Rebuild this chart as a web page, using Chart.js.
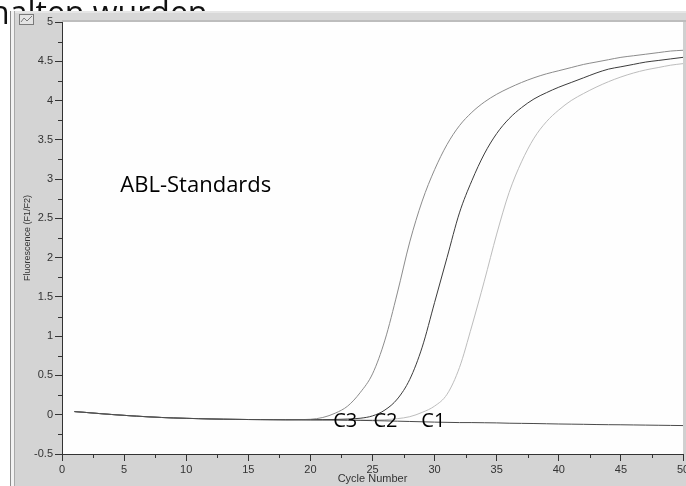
<!DOCTYPE html>
<html>
<head>
<meta charset="utf-8">
<script src="https://cdn.jsdelivr.net/npm/chart.js@4.4.1/dist/chart.umd.min.js"></script>
<style>
html,body{margin:0;padding:0;background:#fff;overflow:hidden;}
#c{display:block;}
</style>
</head>
<body>
<canvas id="c" width="686" height="486"></canvas>
<script>
// ---- data ----
const cycles = [1,2,3,4,5,6,7,8,9,10,11,12,13,14,15,16,17,18,19,20,21,22,23,24,25,26,27,28,29,30,31,32,33,34,35,36,37,38,39,40,41,42,43,44,45,46,47,48,49,50];

const seriesC3 = [0.040,0.028,0.015,0.003,-0.008,-0.018,-0.027,-0.035,-0.041,-0.046,-0.050,-0.054,-0.057,-0.059,-0.061,-0.062,-0.063,-0.063,-0.062,-0.058,
  -0.035,0.020,0.110,0.280,0.520,0.950,1.550,2.200,2.720,3.120,3.440,3.680,3.850,3.980,4.080,4.160,4.230,4.290,4.340,4.380,
  4.420,4.460,4.490,4.520,4.550,4.570,4.590,4.610,4.630,4.640];

const seriesC2 = [0.040,0.028,0.015,0.003,-0.008,-0.018,-0.027,-0.035,-0.041,-0.046,-0.050,-0.054,-0.057,-0.059,-0.061,-0.062,-0.063,-0.064,-0.064,-0.064,
  -0.063,-0.060,-0.055,-0.045,-0.015,0.060,0.200,0.450,0.860,1.430,2.000,2.570,2.980,3.320,3.580,3.770,3.910,4.020,4.100,4.170,
  4.230,4.290,4.350,4.400,4.430,4.460,4.490,4.510,4.530,4.550];

const seriesC1 = [0.040,0.028,0.015,0.003,-0.008,-0.018,-0.027,-0.035,-0.041,-0.046,-0.050,-0.054,-0.057,-0.059,-0.061,-0.062,-0.063,-0.064,-0.064,-0.065,
  -0.066,-0.067,-0.068,-0.068,-0.067,-0.063,-0.050,-0.025,0.030,0.110,0.260,0.600,1.130,1.700,2.300,2.830,3.220,3.520,3.730,3.880,
  4.000,4.090,4.170,4.240,4.300,4.350,4.390,4.420,4.450,4.470];

const seriesNeg = [0.040,0.028,0.015,0.003,-0.008,-0.018,-0.027,-0.035,-0.041,-0.046,-0.050,-0.054,-0.057,-0.059,-0.061,-0.062,-0.063,-0.064,-0.064,-0.065,
  -0.066,-0.068,-0.070,-0.072,-0.075,-0.078,-0.082,-0.086,-0.090,-0.094,-0.097,-0.100,-0.100,-0.102,-0.104,-0.108,-0.110,-0.112,-0.115,-0.118,
  -0.120,-0.122,-0.125,-0.127,-0.128,-0.130,-0.132,-0.134,-0.136,-0.138];

const xTickLabels = [0,5,10,15,20,25,30,35,40,45,50];
const yTickLabels = [-0.5,0,0.5,1,1.5,2,2.5,3,3.5,4,4.5,5];

const annotationTexts = ['ABL-Standards','C3','C2','C1'];
const annotationX = [4.7, 21.83, 25.08, 28.93];
const annotationY = [2.84, -0.158, -0.158, -0.158];

const pageText = 'halten wurden';

// ---- build ----
function pts(vals){ return cycles.map((c,i)=>({x:c,y:vals[i]})); }

const frame = {
  id:'frame',
  beforeDraw(chart){
    const ctx = chart.ctx, a = chart.chartArea;
    ctx.save();
    // document text behind the screenshot
    ctx.fillStyle = '#111';
    ctx.font = '32px "Open Sans"';
    ctx.textBaseline = 'alphabetic';
    ctx.fillText(pageText, -10, 24);
    // window borders
    ctx.fillStyle = '#8c8c8c'; ctx.fillRect(10, 11, 1, 475);
    ctx.fillStyle = '#f2f2f2'; ctx.fillRect(11, 11, 3, 475);
    ctx.fillStyle = '#a9a9a9'; ctx.fillRect(14, 11, 1, 475);
    ctx.fillStyle = '#d4d4d4'; ctx.fillRect(15, 11, 671, 475);
    // top band
    ctx.fillStyle = '#e6e6e6'; ctx.fillRect(15, 11, 671, 2);
    ctx.fillStyle = '#d8d8d8'; ctx.fillRect(15, 13, 671, 7);
    ctx.fillStyle = '#bdbdbd'; ctx.fillRect(a.left, 20, 686 - a.left, 2);
    // plot area
    ctx.fillStyle = '#fefefe';
    ctx.fillRect(a.left, a.top, a.right - a.left, a.bottom - a.top);
    ctx.fillStyle = '#d0d0d0'; ctx.fillRect(a.right, a.top, 686 - a.right, a.bottom - a.top);
    // small icon
    ctx.fillStyle = '#e4e4e4'; ctx.fillRect(19, 14, 15, 11);
    ctx.strokeStyle = '#7a7a7a'; ctx.lineWidth = 1;
    ctx.strokeRect(19.5, 14.5, 14, 10);
    ctx.beginPath(); ctx.moveTo(21, 22); ctx.lineTo(24, 18); ctx.lineTo(27, 21); ctx.lineTo(32, 16); ctx.stroke();
    ctx.restore();
  },
  afterDraw(chart){
    const ctx = chart.ctx;
    ctx.save();
    ctx.strokeStyle = '#333'; ctx.lineWidth = 1;
    const xs = chart.scales.x, ys = chart.scales.y;
    ctx.beginPath();
    xs.ticks.forEach(t=>{ if (Math.abs(t.value % 5) > 1e-9){ const px = Math.round(xs.getPixelForValue(t.value)) + 0.5; ctx.moveTo(px, xs.top); ctx.lineTo(px, xs.top + 4);} });
    ys.ticks.forEach(t=>{ if (Math.abs(Math.round(t.value*2) - t.value*2) > 1e-9){ const py = Math.round(ys.getPixelForValue(t.value)) + 0.5; ctx.moveTo(ys.right, py); ctx.lineTo(ys.right - 4, py);} });
    ctx.stroke();
    // annotations
    ctx.fillStyle = '#000';
    ctx.textBaseline = 'alphabetic'; ctx.textAlign = 'left';
    annotationTexts.forEach((t,i)=>{
      ctx.font = (i === 0 ? '22px' : '20px') + ' "Open Sans"';
      ctx.fillText(t, xs.getPixelForValue(annotationX[i]), ys.getPixelForValue(annotationY[i]));
    });
    ctx.restore();
  }
};

const tickFont = {family:'"Liberation Sans", Arial, sans-serif', size:11};

new Chart(document.getElementById('c'), {
  type:'line',
  data:{
    datasets:[
      {label:'NTC', data:pts(seriesNeg), borderColor:'#4a4a4a'},
      {label:'C3', data:pts(seriesC3), borderColor:'#8c8c8c'},
      {label:'C2', data:pts(seriesC2), borderColor:'#3c3c3c'},
      {label:'C1', data:pts(seriesC1), borderColor:'#bdbdbd'}
    ]
  },
  options:{
    responsive:false, animation:false, devicePixelRatio:1,
    layout:{padding:{left:17, top:22, right:3, bottom:0}},
    plugins:{legend:{display:false}, tooltip:{enabled:false}},
    elements:{point:{radius:0}, line:{borderWidth:1, cubicInterpolationMode:'monotone', fill:false}},
    scales:{
      x:{
        type:'linear', min:0, max:50,
        afterBuildTicks(s){ const t=[]; for(let v=0; v<=50; v+=2.5) t.push({value:v}); s.ticks=t; },
        ticks:{autoSkip:false, maxRotation:0, color:'#333', font:tickFont, padding:2,
          callback:(v)=> xTickLabels.includes(v) ? String(v) : ''},
        grid:{drawOnChartArea:false, tickLength:7, tickColor:(c)=> (c.tick && xTickLabels.includes(c.tick.value)) ? '#333' : 'rgba(0,0,0,0)'},
        border:{color:'#333', width:1},
        title:{display:true, text:'Cycle Number', color:'#333', font:{family:'"Liberation Sans", Arial, sans-serif', size:11}, padding:{top:0,bottom:0}},
        afterFit(s){ s.height = 32; s.paddingLeft = 0; s.paddingRight = 0; }
      },
      y:{
        type:'linear', min:-0.5, max:5,
        afterBuildTicks(s){ const t=[]; for(let k=-2; k<=20; k++) t.push({value:k/4}); s.ticks=t; },
        ticks:{autoSkip:false, color:'#333', font:tickFont, padding:2,
          callback:(v)=> yTickLabels.some(l=>Math.abs(l-v)<1e-9) ? String(v) : ''},
        grid:{drawOnChartArea:false, tickLength:7, tickColor:(c)=> (c.tick && yTickLabels.some(l=>Math.abs(l-c.tick.value)<1e-9)) ? '#333' : 'rgba(0,0,0,0)'},
        border:{color:'#333', width:1},
        title:{display:true, text:'Fluorescence (F1/F2)', color:'#333', font:{family:'"Liberation Sans", Arial, sans-serif', size:9}, padding:{top:5,bottom:0}},
        afterFit(s){ s.width = 45; s.paddingTop = 0; s.paddingBottom = 0; }
      }
    }
  },
  plugins:[frame]
});
</script>
</body>
</html>
